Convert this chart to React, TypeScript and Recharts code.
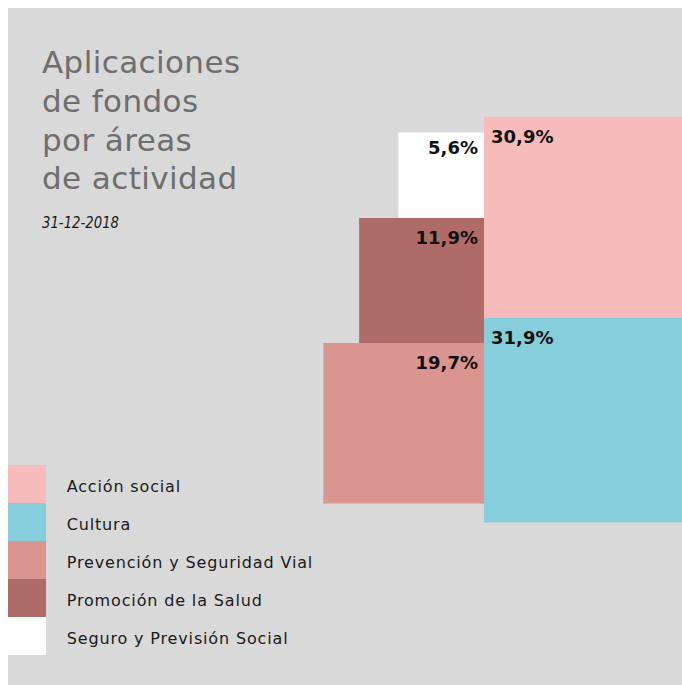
import React from "react";
import { ComposedChart, XAxis, YAxis, ReferenceArea } from "recharts";

const categories = [
  "Acción social",
  "Cultura",
  "Prevención y Seguridad Vial",
  "Promoción de la Salud",
  "Seguro y Previsión Social",
];
const shares = [30.9, 31.9, 19.7, 11.9, 5.6];
const colors = ["#f7bbbb", "#87cedc", "#db9591", "#af6b67", "#ffffff"];

// which squares sit in which column (right: above / below the middle line)
const rightColumn = ["Acción social", "Cultura"];
const leftColumn = ["Seguro y Previsión Social", "Promoción de la Salud", "Prevención y Seguridad Vial"];

const titleLines = ["Aplicaciones", "de fondos", "por áreas", "de actividad"];
const dateLabel = "31-12-2018";

const W = 674;
const H = 677;
const UNIT = 36.2; // px per sqrt(%)
const ORIGIN_X = 476;
const ORIGIN_Y = 310;
const xDomain = [-ORIGIN_X / UNIT, (W - ORIGIN_X) / UNIT];
const yDomain = [-(H - ORIGIN_Y) / UNIT, ORIGIN_Y / UNIT];

const FONT = "'DejaVu Sans', sans-serif";

const fmt = (v: number) => v.toFixed(1).replace(".", ",") + "%";
const valueOf = (name: string) => shares[categories.indexOf(name)];
const colorOf = (name: string) => colors[categories.indexOf(name)];
const side = (name: string) => Math.sqrt(valueOf(name));

type Square = { name: string; x1: number; x2: number; y1: number; y2: number; align: "left" | "right" };

const buildSquares = (): Square[] => {
  const out: Square[] = [];
  const top = side(rightColumn[0]);
  const bottom = side(rightColumn[1]);
  out.push({ name: rightColumn[0], x1: 0, x2: top, y1: 0, y2: top, align: "left" });
  out.push({ name: rightColumn[1], x1: 0, x2: bottom, y1: -bottom, y2: 0, align: "left" });

  const total = leftColumn.reduce((s, n) => s + side(n), 0);
  let y = total / 2;
  leftColumn.forEach((n) => {
    const s = side(n);
    out.push({ name: n, x1: -s, x2: 0, y1: y - s, y2: y, align: "right" });
    y -= s;
  });
  return out;
};

const squares = buildSquares();

const SquareLabel = ({ viewBox, text, align }: any) => {
  if (!viewBox) return null;
  const { x, y, width, height } = viewBox;
  const tx = align === "left" ? x + 7 : x + width - 6;
  const dy = Math.min(26, height * 0.25);
  return (
    <text
      x={tx}
      y={y + dy}
      textAnchor={align === "left" ? "start" : "end"}
      fontFamily={FONT}
      fontWeight="bold"
      fontSize={18}
      fill="#111"
    >
      {text}
    </text>
  );
};

const App: React.FC = () => {
  return (
    <div style={{ position: "relative", width: W, height: H, background: "#d9d9d9", overflow: "hidden" }}>
      <style>{"html{overflow:hidden} body{margin:0;padding:8px 0 0 8px}"}</style>
      <ComposedChart width={W} height={H} margin={{ top: 0, right: 0, bottom: 0, left: 0 }}>
        <XAxis type="number" dataKey="x" domain={xDomain} allowDataOverflow hide />
        <YAxis type="number" dataKey="y" domain={yDomain} allowDataOverflow hide />
        {squares.map((sq) => (
          <ReferenceArea
            key={sq.name}
            x1={sq.x1}
            x2={sq.x2}
            y1={sq.y1}
            y2={sq.y2}
            fill={colorOf(sq.name)}
            fillOpacity={1}
            stroke="none"
            ifOverflow="visible"
            label={<SquareLabel text={fmt(valueOf(sq.name))} align={sq.align} />}
          />
        ))}
      </ComposedChart>

      <svg
        width={W}
        height={H}
        style={{ position: "absolute", left: 0, top: 0, pointerEvents: "none" }}
      >
        {titleLines.map((line, i) => (
          <text key={line} x={34} y={65.3 + i * 38.7} fontFamily={FONT} fontSize={31} letterSpacing={0.4} fill="#6e6e6e">
            {line}
          </text>
        ))}
        <text
          x={34}
          y={220.3}
          fontFamily={FONT}
          fontStyle="italic"
          fontSize={15}
          textLength={77}
          lengthAdjust="spacingAndGlyphs"
          fill="#1a1a1a"
        >
          {dateLabel}
        </text>
        {categories.map((c, i) => (
          <g key={c}>
            <rect x={0} y={457 + i * 38} width={38} height={38} fill={colors[i]} />
            <text x={58.7} y={457 + i * 38 + 26.7} fontFamily={FONT} fontSize={16} letterSpacing={0.85} fill="#1a1a1a">
              {c}
            </text>
          </g>
        ))}
      </svg>
    </div>
  );
};

export default App;
